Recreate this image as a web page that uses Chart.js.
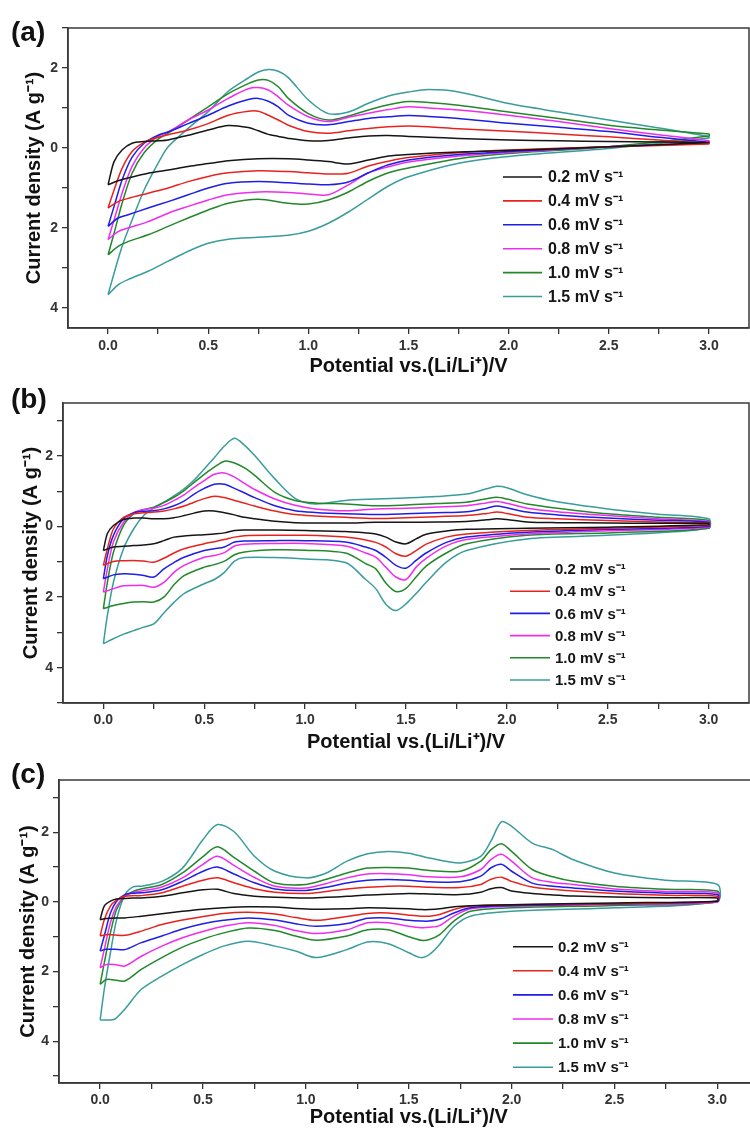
<!DOCTYPE html>
<html><head><meta charset="utf-8">
<script src="https://cdn.jsdelivr.net/npm/chart.js@4.4.1/dist/chart.umd.min.js"></script>
<style>
html,body{margin:0;padding:0;background:#fff;width:750px;height:1131px;overflow:hidden;position:relative}
canvas{position:absolute;left:0}
</style></head><body>
<canvas id="ca" width="750" height="380" style="top:0px"></canvas>
<canvas id="cb" width="750" height="380" style="top:375px"></canvas>
<canvas id="cc" width="760" height="379" style="top:752px"></canvas>
<script>
// ---------- shared ----------
const seriesLabels = ['0.2 mV s\u207B\u00B9','0.4 mV s\u207B\u00B9','0.6 mV s\u207B\u00B9','0.8 mV s\u207B\u00B9','1.0 mV s\u207B\u00B9','1.5 mV s\u207B\u00B9'];
const seriesColors = ['#151515','#e8231e','#1e1ee6','#f02cf0','#22882a','#3a9c9c'];

// ---------- panel (a) ----------
const aUpV = [0,0.03,0.07,0.12,0.18,0.25,0.3,0.4,0.5,0.6,0.7,0.75,0.8,0.85,0.9,1.0,1.1,1.2,1.3,1.4,1.5,1.6,1.75,2.0,2.25,2.5,2.75,3.0];
const aUp02 = [-0.92,-0.34,-0.05,0.12,0.16,0.18,0.2,0.32,0.45,0.56,0.51,0.43,0.34,0.29,0.24,0.18,0.19,0.25,0.3,0.31,0.29,0.27,0.24,0.2,0.18,0.16,0.15,0.14];
const aUp04 = [-1.5,-1.05,-0.51,-0.09,0.14,0.27,0.33,0.45,0.61,0.82,0.92,0.92,0.82,0.7,0.57,0.41,0.37,0.43,0.49,0.53,0.55,0.53,0.48,0.42,0.35,0.28,0.2,0.12];
const aUp06 = [-1.96,-1.46,-0.8,-0.23,0.12,0.32,0.4,0.61,0.82,1.05,1.21,1.24,1.17,1.03,0.82,0.62,0.58,0.66,0.74,0.78,0.81,0.79,0.74,0.62,0.52,0.41,0.27,0.14];
const aUp08 = [-2.29,-1.8,-1.13,-0.46,0.0,0.29,0.4,0.7,0.95,1.24,1.48,1.51,1.45,1.28,1.07,0.78,0.66,0.77,0.87,0.96,1.03,1.0,0.95,0.82,0.66,0.49,0.33,0.18];
const aUp10 = [-2.67,-2.13,-1.38,-0.63,-0.12,0.22,0.37,0.7,1.03,1.36,1.61,1.7,1.69,1.53,1.24,0.86,0.7,0.8,0.95,1.08,1.16,1.14,1.07,0.9,0.74,0.57,0.45,0.35];
const aUp15 = [-3.67,-3.13,-2.46,-1.8,-1.05,-0.38,0.03,0.49,0.91,1.42,1.75,1.9,1.96,1.92,1.76,1.2,0.86,0.9,1.12,1.3,1.4,1.46,1.4,1.11,0.9,0.7,0.5,0.28];
const aDnV = [0,0.05,0.1,0.2,0.3,0.4,0.5,0.6,0.75,0.9,1.0,1.1,1.2,1.3,1.4,1.5,1.75,2.0,2.5,3.0];
const aDn02 = [-0.92,-0.82,-0.75,-0.63,-0.55,-0.46,-0.39,-0.32,-0.27,-0.27,-0.3,-0.34,-0.4,-0.3,-0.2,-0.16,-0.1,-0.06,0.03,0.14];
const aDn04 = [-1.5,-1.34,-1.26,-1.13,-1.0,-0.84,-0.71,-0.62,-0.57,-0.59,-0.62,-0.65,-0.63,-0.45,-0.33,-0.24,-0.12,-0.05,0.03,0.1];
const aDn06 = [-1.96,-1.75,-1.67,-1.5,-1.34,-1.17,-1.0,-0.88,-0.84,-0.87,-0.9,-0.92,-0.85,-0.62,-0.42,-0.3,-0.16,-0.09,0.03,0.12];
const aDn08 = [-2.29,-2.09,-2.0,-1.84,-1.63,-1.46,-1.3,-1.17,-1.1,-1.11,-1.15,-1.17,-0.92,-0.62,-0.47,-0.35,-0.2,-0.11,0.03,0.14];
const aDn10 = [-2.67,-2.46,-2.34,-2.17,-1.96,-1.75,-1.55,-1.38,-1.28,-1.38,-1.4,-1.3,-1.1,-0.83,-0.62,-0.5,-0.27,-0.14,0.03,0.3];
const aDn15 = [-3.67,-3.42,-3.29,-3.08,-2.83,-2.58,-2.38,-2.28,-2.23,-2.18,-2.08,-1.88,-1.6,-1.27,-0.95,-0.72,-0.38,-0.21,-0.01,0.25];

// ---------- panel (b) ----------
const bUpV = [0,0.02,0.05,0.1,0.15,0.2,0.25,0.3,0.35,0.4,0.45,0.5,0.55,0.6,0.65,0.7,0.75,0.85,0.95,1.05,1.2,1.35,1.5,1.65,1.8,1.9,1.95,2.0,2.1,2.25,2.5,2.75,3.0];
const bUp02 = [-0.68,-0.2,0.03,0.2,0.24,0.24,0.22,0.22,0.25,0.31,0.38,0.44,0.44,0.39,0.33,0.26,0.22,0.15,0.11,0.1,0.1,0.12,0.12,0.13,0.14,0.19,0.22,0.2,0.13,0.11,0.1,0.09,0.09];
const bUp04 = [-1.1,-0.63,-0.07,0.26,0.36,0.39,0.41,0.44,0.5,0.58,0.69,0.79,0.86,0.82,0.74,0.66,0.58,0.44,0.34,0.3,0.26,0.23,0.25,0.28,0.31,0.37,0.41,0.37,0.26,0.22,0.17,0.13,0.1];
const bUp06 = [-1.48,-0.82,-0.25,0.22,0.39,0.43,0.45,0.5,0.59,0.72,0.92,1.08,1.2,1.2,1.08,0.95,0.82,0.59,0.45,0.4,0.36,0.34,0.36,0.39,0.42,0.52,0.58,0.53,0.41,0.33,0.24,0.18,0.12];
const bUp08 = [-1.86,-1.2,-0.44,0.12,0.39,0.48,0.52,0.6,0.74,0.9,1.11,1.3,1.48,1.52,1.4,1.22,1.05,0.78,0.6,0.5,0.45,0.5,0.52,0.55,0.59,0.67,0.71,0.66,0.52,0.42,0.31,0.22,0.14];
const bUp10 = [-2.33,-1.58,-0.73,0.03,0.36,0.48,0.55,0.68,0.83,1.02,1.25,1.48,1.68,1.85,1.8,1.66,1.45,0.97,0.74,0.67,0.64,0.59,0.61,0.65,0.69,0.79,0.83,0.78,0.64,0.52,0.36,0.26,0.17];
const bUp15 = [-3.32,-2.52,-1.58,-0.63,-0.07,0.31,0.52,0.69,0.87,1.07,1.32,1.63,1.95,2.28,2.5,2.3,2.01,1.35,0.8,0.64,0.74,0.78,0.81,0.85,0.92,1.07,1.14,1.1,0.9,0.7,0.5,0.35,0.22];
const bDnV = [0,0.05,0.1,0.15,0.2,0.25,0.3,0.35,0.4,0.5,0.55,0.6,0.65,0.7,0.85,1.0,1.2,1.3,1.35,1.4,1.45,1.5,1.55,1.6,1.7,1.8,2.1,2.5,3.0];
const bDn02 = [-0.68,-0.58,-0.56,-0.54,-0.52,-0.49,-0.4,-0.3,-0.27,-0.23,-0.21,-0.18,-0.11,-0.1,-0.1,-0.11,-0.14,-0.18,-0.21,-0.3,-0.44,-0.49,-0.35,-0.22,-0.13,-0.08,-0.05,-0.02,0.05];
const bDn04 = [-1.1,-0.99,-0.97,-0.96,-0.98,-1.01,-0.9,-0.75,-0.63,-0.49,-0.43,-0.37,-0.3,-0.26,-0.25,-0.25,-0.3,-0.38,-0.45,-0.58,-0.77,-0.84,-0.68,-0.5,-0.3,-0.21,-0.11,-0.05,0.03];
const bDn06 = [-1.48,-1.37,-1.34,-1.35,-1.39,-1.43,-1.2,-1.02,-0.87,-0.68,-0.63,-0.58,-0.44,-0.41,-0.4,-0.4,-0.44,-0.58,-0.68,-0.87,-1.1,-1.18,-0.96,-0.75,-0.45,-0.3,-0.16,-0.08,0.0];
const bDn08 = [-1.86,-1.76,-1.68,-1.67,-1.67,-1.72,-1.58,-1.3,-1.1,-0.87,-0.82,-0.74,-0.55,-0.5,-0.48,-0.48,-0.55,-0.75,-0.87,-1.15,-1.43,-1.5,-1.15,-0.9,-0.55,-0.37,-0.21,-0.12,-0.02];
const bDn10 = [-2.33,-2.24,-2.18,-2.14,-2.13,-2.14,-2.0,-1.65,-1.39,-1.15,-1.08,-0.98,-0.8,-0.72,-0.66,-0.67,-0.75,-1.05,-1.2,-1.6,-1.84,-1.75,-1.43,-1.12,-0.75,-0.49,-0.25,-0.18,-0.05];
const bDn15 = [-3.32,-3.18,-3.05,-2.95,-2.85,-2.76,-2.45,-2.15,-1.9,-1.62,-1.5,-1.3,-0.98,-0.88,-0.88,-0.92,-1.02,-1.5,-1.76,-2.2,-2.38,-2.19,-1.9,-1.58,-1.01,-0.68,-0.35,-0.25,-0.05];

// ---------- panel (c) ----------
const cUpV = [0,0.02,0.05,0.08,0.12,0.16,0.2,0.3,0.4,0.5,0.57,0.65,0.75,0.85,1.0,1.1,1.2,1.3,1.4,1.5,1.6,1.75,1.85,1.9,1.95,2.0,2.1,2.2,2.3,2.5,2.75,3.0];
const cUp02 = [-0.51,-0.12,0.02,0.08,0.1,0.11,0.11,0.16,0.26,0.35,0.36,0.24,0.16,0.13,0.11,0.13,0.16,0.2,0.22,0.24,0.23,0.21,0.28,0.38,0.41,0.31,0.24,0.2,0.17,0.14,0.12,0.11];
const cUp04 = [-0.98,-0.51,-0.12,0.05,0.16,0.18,0.18,0.26,0.45,0.62,0.69,0.55,0.38,0.28,0.24,0.3,0.37,0.42,0.45,0.45,0.42,0.41,0.5,0.65,0.71,0.59,0.43,0.36,0.31,0.24,0.19,0.16];
const cUp06 = [-1.41,-0.98,-0.32,0.02,0.21,0.25,0.26,0.35,0.59,0.88,1.0,0.8,0.55,0.37,0.33,0.42,0.54,0.62,0.64,0.62,0.58,0.58,0.74,0.98,1.08,0.88,0.54,0.45,0.4,0.31,0.25,0.21];
const cUp08 = [-1.89,-1.37,-0.6,-0.12,0.16,0.27,0.31,0.43,0.69,1.08,1.31,1.05,0.7,0.45,0.4,0.53,0.69,0.8,0.81,0.78,0.72,0.72,0.93,1.22,1.37,1.17,0.69,0.56,0.5,0.37,0.3,0.26];
const cUp10 = [-2.37,-1.75,-0.89,-0.22,0.16,0.3,0.37,0.5,0.83,1.3,1.58,1.28,0.88,0.54,0.5,0.65,0.83,0.97,0.99,0.97,0.9,0.88,1.17,1.5,1.67,1.45,0.93,0.72,0.59,0.45,0.36,0.31];
const cUp15 = [-3.39,-2.51,-1.46,-0.51,0.2,0.43,0.45,0.59,0.97,1.79,2.22,2.02,1.31,0.88,0.69,0.83,1.17,1.38,1.45,1.4,1.26,1.12,1.31,1.75,2.3,2.17,1.69,1.5,1.21,0.83,0.62,0.5];
const cDnV = [0,0.03,0.07,0.12,0.2,0.3,0.4,0.5,0.6,0.72,0.85,0.95,1.05,1.2,1.3,1.4,1.5,1.56,1.6,1.65,1.72,1.8,2.0,2.5,3.0];
const cDn02 = [-0.51,-0.48,-0.46,-0.46,-0.41,-0.34,-0.27,-0.21,-0.17,-0.14,-0.15,-0.19,-0.21,-0.2,-0.17,-0.18,-0.2,-0.22,-0.22,-0.2,-0.14,-0.11,-0.08,-0.03,0.02];
const cDn04 = [-0.98,-0.94,-0.95,-0.96,-0.84,-0.65,-0.52,-0.42,-0.33,-0.3,-0.35,-0.45,-0.53,-0.42,-0.33,-0.32,-0.38,-0.41,-0.41,-0.36,-0.22,-0.12,-0.08,-0.05,0.02];
const cDn06 = [-1.41,-1.36,-1.36,-1.37,-1.17,-0.98,-0.78,-0.63,-0.53,-0.46,-0.52,-0.63,-0.7,-0.62,-0.47,-0.46,-0.53,-0.55,-0.55,-0.5,-0.32,-0.17,-0.11,-0.06,0.02];
const cDn08 = [-1.89,-1.8,-1.8,-1.84,-1.56,-1.27,-1.03,-0.85,-0.7,-0.6,-0.68,-0.82,-0.91,-0.8,-0.6,-0.6,-0.7,-0.74,-0.73,-0.68,-0.41,-0.2,-0.12,-0.07,0.0];
const cDn10 = [-2.37,-2.23,-2.24,-2.27,-1.94,-1.6,-1.3,-1.07,-0.89,-0.75,-0.82,-0.98,-1.1,-0.98,-0.8,-0.8,-1.0,-1.1,-1.08,-0.94,-0.55,-0.27,-0.17,-0.1,0.0];
const cDn15 = [-3.39,-3.39,-3.37,-3.08,-2.51,-2.13,-1.8,-1.51,-1.27,-1.13,-1.27,-1.41,-1.6,-1.37,-1.15,-1.2,-1.46,-1.6,-1.51,-1.22,-0.7,-0.41,-0.27,-0.17,0.02];

// ---------- tick / axis text ----------
const xTitle = 'Potential vs.(Li/Li\u207A)/V';
const yTitle = 'Current density (A g\u207B\u00B9)';
const FONT = "'Liberation Sans', Arial, Helvetica, sans-serif";

function loop(upV, up, dnV, dn) {
  const pts = upV.map((v, i) => ({x: v, y: up[i]}));
  for (let i = dnV.length - 1; i >= 0; i--) pts.push({x: dnV[i], y: dn[i]});
  return pts;
}

const framePlugin = {
  id: 'frame',
  afterDraw(chart) {
    const {ctx, chartArea: a} = chart;
    ctx.save();
    ctx.strokeStyle = '#3a3a3a'; ctx.lineWidth = 1.5;
    ctx.strokeRect(a.left, a.top, a.right - a.left, a.bottom - a.top);
    ctx.restore();
  }
};
const legendPlugin = {
  id: 'inLegend',
  afterDraw(chart, args, o) {
    const ctx = chart.ctx;
    ctx.save();
    ctx.font = 'bold ' + o.size + 'px ' + FONT;
    ctx.textBaseline = 'middle'; ctx.textAlign = 'left';
    chart.data.datasets.forEach((ds, i) => {
      const y = o.y + i * o.dy;
      ctx.strokeStyle = ds.borderColor; ctx.lineWidth = 1.6;
      ctx.beginPath(); ctx.moveTo(o.x, y); ctx.lineTo(o.x + o.len, y); ctx.stroke();
      ctx.fillStyle = '#151515';
      ctx.fillText(ds.label, o.x + o.len + o.gap, y + 1);
    });
    ctx.restore();
  }
};
const panelLabelPlugin = {
  id: 'panelLabel',
  afterDraw(chart, args, o) {
    const ctx = chart.ctx;
    ctx.save();
    ctx.font = 'bold 28px ' + FONT;
    ctx.fillStyle = '#111'; ctx.textBaseline = 'middle'; ctx.textAlign = 'left';
    ctx.fillText(o.text, o.x, o.y);
    ctx.restore();
  }
};

function makeChart(id, p) {
  const ups = p.ups, dns = p.dns;
  const datasets = seriesLabels.map((lab, i) => ({
    label: lab,
    data: loop(p.upV, ups[i], p.dnV, dns[i]),
    borderColor: seriesColors[i],
    backgroundColor: seriesColors[i],
    borderWidth: 1.5,
    pointRadius: 0,
    showLine: true,
    fill: false,
    tension: 0.3
  }));
  return new Chart(document.getElementById(id), {
    type: 'scatter',
    data: {datasets},
    plugins: [framePlugin, legendPlugin, panelLabelPlugin],
    options: {
      responsive: false,
      animation: false,
      events: [],
      layout: {padding: {top: 28, right: p.padRight, bottom: p.padBottom, left: 0}},
      plugins: {
        legend: {display: false},
        tooltip: {enabled: false},
        inLegend: p.legend,
        panelLabel: p.label
      },
      scales: {
        x: {
          type: 'linear', min: -0.2, max: 3.2,
          ticks: {
            stepSize: 0.25, includeBounds: false, autoSkip: false, maxRotation: 0,
            padding: p.xTickPad, color: '#333',
            font: {family: FONT, size: 14, weight: 'bold'},
            callback: v => Math.abs(v * 2 - Math.round(v * 2)) < 1e-6 ? v.toFixed(1) : ''
          },
          grid: {display: true, drawOnChartArea: false, drawTicks: true, tickLength: 6, color: '#333', lineWidth: 1.3},
          border: {display: true, color: '#3a3a3a', width: 1.5},
          title: {display: true, text: xTitle, color: '#111', font: {family: FONT, size: 20, weight: 'bold'}, padding: {top: 0, bottom: 0}},
          afterFit: s => { s.height = p.xH; }
        },
        y: {
          type: 'linear', min: p.yMin, max: p.yMax,
          ticks: {
            stepSize: 1, includeBounds: false, autoSkip: false,
            padding: 4, color: '#333',
            font: {family: FONT, size: 14, weight: 'bold'},
            callback: v => (Number.isInteger(v) && v % 2 === 0) ? String(Math.abs(v)) : ''
          },
          grid: {display: true, drawOnChartArea: false, drawTicks: true, tickLength: 6, color: '#333', lineWidth: 1.3},
          border: {display: true, color: '#3a3a3a', width: 1.5},
          title: {display: true, text: yTitle, color: '#111', font: {family: FONT, size: 20, weight: 'bold'}, padding: {top: p.yTitlePad, bottom: 0}},
          afterFit: s => { s.width = p.yW; }
        }
      }
    }
  });
}

makeChart('ca', {
  upV: aUpV, dnV: aDnV,
  ups: [aUp02, aUp04, aUp06, aUp08, aUp10, aUp15],
  dns: [aDn02, aDn04, aDn06, aDn08, aDn10, aDn15],
  yMin: -4.5, yMax: 3, yW: 68, xH: 50, padRight: 1, padBottom: 2, xTickPad: 4, yTitlePad: 22,
  legend: {x: 503, y: 177, dy: 23.9, len: 39, gap: 6, size: 16},
  label: {text: '(a)', x: 11, y: 33}
});
makeChart('cb', {
  upV: bUpV, dnV: bDnV,
  ups: [bUp02, bUp04, bUp06, bUp08, bUp10, bUp15],
  dns: [bDn02, bDn04, bDn06, bDn08, bDn10, bDn15],
  yMin: -5, yMax: 3.5, yW: 63, xH: 51, padRight: 1, padBottom: 1, xTickPad: 3, yTitlePad: 19,
  legend: {x: 510, y: 194, dy: 22.2, len: 40, gap: 5, size: 15},
  label: {text: '(b)', x: 11, y: 25}
});
makeChart('cc', {
  upV: cUpV, dnV: cDnV,
  ups: [cUp02, cUp04, cUp06, cUp08, cUp10, cUp15],
  dns: [cDn02, cDn04, cDn06, cDn08, cDn10, cDn15],
  yMin: -5.2, yMax: 3.5, yW: 59, xH: 46, padRight: 1.5, padBottom: 2, xTickPad: 3, yTitlePad: 16,
  legend: {x: 513, y: 194.7, dy: 24.1, len: 40, gap: 5, size: 15},
  label: {text: '(c)', x: 11, y: 23}
});
</script>
</body></html>
